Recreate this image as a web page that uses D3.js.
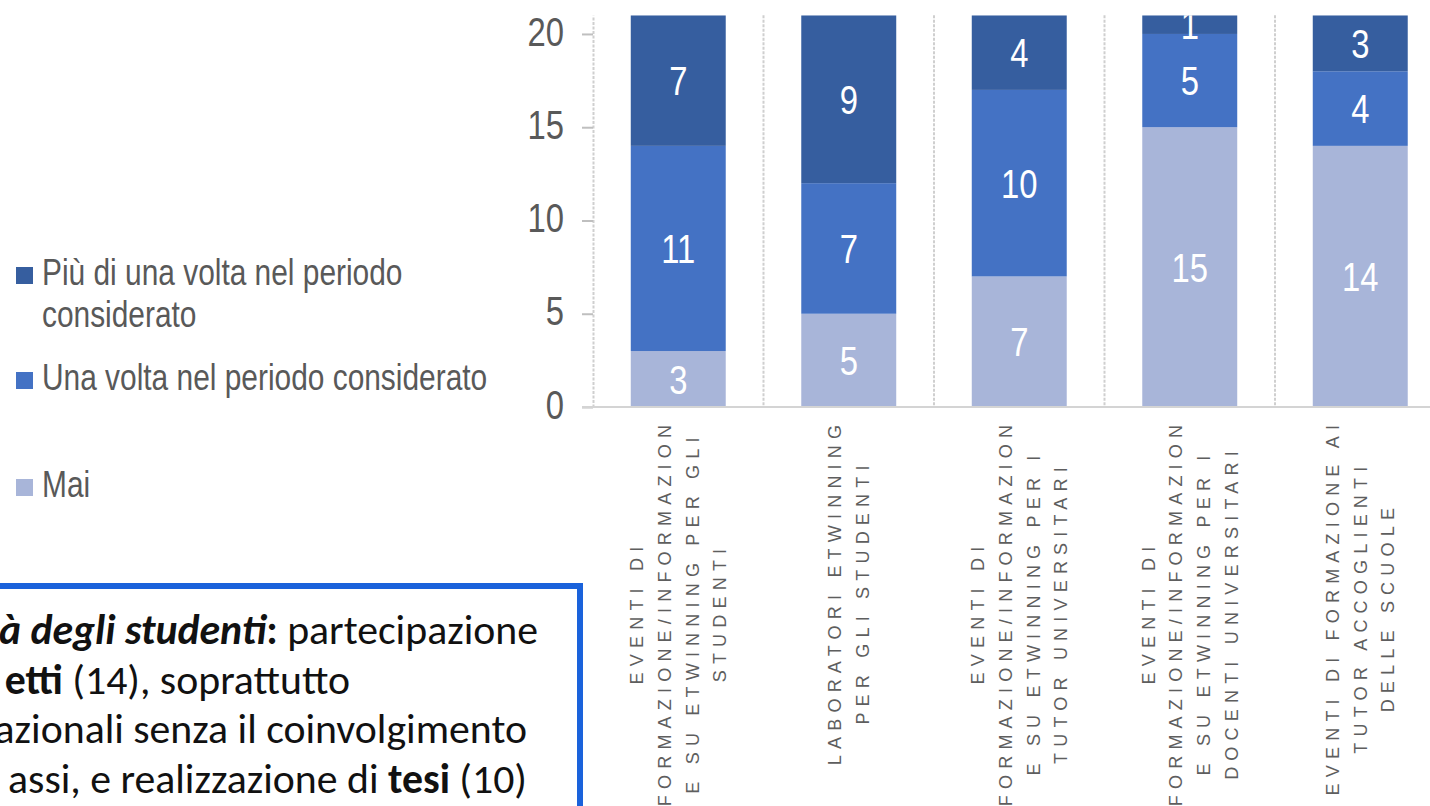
<!DOCTYPE html>
<html>
<head>
<meta charset="utf-8">
<script src="https://cdn.jsdelivr.net/npm/d3@7"></script>
<style>
  body { margin: 0; background: #fff; }
  svg { display: block; }
</style>
</head>
<body>
<div id="chart"></div>
<script>
// categories (x axis), each label split in the lines shown on the chart
const categories = ["eventi_studenti", "laboratori", "eventi_tutor_uni", "eventi_docenti_uni", "eventi_tutor_scuole"];
const catLines = [
  ["EVENTI DI", "FORMAZIONE/INFORMAZION", "E SU ETWINNING PER GLI", "STUDENTI"],
  ["LABORATORI ETWINNING", "PER GLI STUDENTI"],
  ["EVENTI DI", "FORMAZIONE/INFORMAZION", "E SU ETWINNING PER I", "TUTOR UNIVERSITARI"],
  ["EVENTI DI", "FORMAZIONE/INFORMAZION", "E SU ETWINNING PER I", "DOCENTI UNIVERSITARI"],
  ["EVENTI DI FORMAZIONE AI", "TUTOR ACCOGLIENTI", "DELLE SCUOLE"]
];

// series values
const mai      = [3, 5, 7, 15, 14];
const unaVolta = [11, 7, 10, 5, 4];
const piuVolte = [7, 9, 4, 1, 3];

const seriesKeys = ["mai", "una", "piu"];
const seriesColors = { mai: "#a8b5d9", una: "#4472c4", piu: "#365e9f" };

// legend (top to bottom)
const legendKeys = ["piu", "una", "mai"];
const legendLines = [
  ["Più di una volta nel periodo", "considerato"],
  ["Una volta nel periodo considerato"],
  ["Mai"]
];

const yTicks = [0, 5, 10, 15, 20];

// text box lines (fragments: [text, weight, style])
const boxLines = [
  [["à degli studenti", "bold", "italic"], [":", "bold", "normal"], [" partecipazione", "normal", "normal"]],
  [["etti", "bold", "normal"], [" (14), soprattutto", "normal", "normal"]],
  [["azionali senza il coinvolgimento", "normal", "normal"]],
  [["assi, e realizzazione di ", "normal", "normal"], ["tesi", "bold", "normal"], [" (10)", "normal", "normal"]]
];
const boxLineEnds = [538, 350, 527, 527];

const sans = "'Liberation Sans', Arial, sans-serif";
const grey = "#595959";

// Arial Narrow is not available: squeeze Liberation Sans horizontally
function condense(sel, k = 0.8) {
  sel.each(function () {
    const w = this.getComputedTextLength();
    d3.select(this).attr("textLength", w * k).attr("lengthAdjust", "spacingAndGlyphs");
  });
}

const svg = d3.select("#chart").append("svg")
    .attr("width", 1430).attr("height", 806);

// scales
const x = d3.scaleBand().domain(categories)
    .range([593, 593 + 170.5 * categories.length])
    .paddingInner(0.443).paddingOuter(0.2215);
const y = d3.scaleLinear().domain([0, 21]).range([407, 15.3]);

const rows = categories.map((c, i) => ({ cat: c, mai: mai[i], una: unaVolta[i], piu: piuVolte[i] }));
const stacked = d3.stack().keys(seriesKeys)(rows);

svg.append("clipPath").attr("id", "plot")
  .append("rect").attr("x", 0).attr("y", y(21)).attr("width", 1430).attr("height", y(0) - y(21));

// vertical gridlines between categories
const gap = (x.step() - x.bandwidth()) / 2;
svg.append("g").selectAll("line")
  .data(categories.slice(1))
  .join("line")
    .attr("x1", d => x(d) - gap).attr("x2", d => x(d) - gap)
    .attr("y1", y(21)).attr("y2", y(0))
    .attr("stroke", "#cfcfcf").attr("stroke-width", 2)
    .attr("stroke-dasharray", "3,1.5");

// bars
const plot = svg.append("g").attr("clip-path", "url(#plot)");
plot.selectAll("g.layer")
  .data(stacked)
  .join("g").attr("class", "layer")
    .attr("fill", d => seriesColors[d.key])
  .selectAll("rect")
  .data(d => d)
  .join("rect")
    .attr("x", d => x(d.data.cat))
    .attr("width", x.bandwidth())
    .attr("y", d => y(d[1]))
    .attr("height", d => y(d[0]) - y(d[1]));

// data labels
const dataLabels = plot.selectAll("g.labels")
  .data(stacked)
  .join("g").attr("class", "labels")
  .selectAll("text")
  .data(d => d)
  .join("text")
    .attr("x", d => x(d.data.cat) + x.bandwidth() / 2)
    .attr("y", d => y((d[0] + d[1]) / 2))
    .attr("dy", "0.36em")
    .attr("text-anchor", "middle")
    .attr("fill", "#fff")
    .style("font-family", sans).style("font-size", "41px")
    .text(d => d[1] - d[0]);
condense(dataLabels);

// y axis
const yAxis = svg.append("g")
    .attr("transform", `translate(${x.range()[0]},0)`)
    .call(d3.axisLeft(y).tickValues(yTicks).tickSize(11).tickSizeOuter(0).tickPadding(18));
yAxis.select(".domain").attr("stroke", "#cfcfcf").attr("stroke-width", 2).attr("stroke-dasharray", "3,1.5");
yAxis.selectAll(".tick line").attr("stroke", "#bfbfbf").attr("stroke-width", 2);
yAxis.selectAll(".tick text")
    .attr("dy", "0.27em").attr("fill", grey)
    .style("font-family", sans).style("font-size", "41px")
    .call(condense);

// baseline
svg.append("line")
    .attr("x1", x.range()[0] - 11).attr("x2", 1430)
    .attr("y1", y(0)).attr("y2", y(0))
    .attr("stroke", "#d4d4d4").attr("stroke-width", 2);

// category labels, rotated, letter spaced
const labelFs = 18, labelLs = 6.2, labelGap = 27.7, labelTop = 425;
catLines.forEach((lines, i) => {
  const cx = x(categories[i]) + x.bandwidth() / 2;
  const g = svg.append("g").attr("transform", `translate(${cx},0) rotate(-90)`);
  const texts = g.selectAll("text")
    .data(lines)
    .join("text")
      .attr("y", (d, j) => (j - (lines.length - 1) / 2) * labelGap + 0.36 * labelFs)
      .attr("fill", "#5e5e5e")
      .style("font-family", sans)
      .style("font-size", labelFs + "px")
      .style("letter-spacing", labelLs + "px")
      .text(d => d);
  const lens = texts.nodes().map(n => n.getComputedTextLength() - labelLs);
  const center = labelTop + d3.max(lens) / 2;
  texts.attr("x", (d, j) => -(center + lens[j] / 2));
});

// legend
const legendBase = [285, 390, 497];
const legend = svg.append("g");
legendKeys.forEach((k, i) => {
  legend.append("rect")
    .attr("x", 16).attr("y", legendBase[i] - 18)
    .attr("width", 17).attr("height", 17)
    .attr("fill", seriesColors[k]);
  legend.selectAll(null)
    .data(legendLines[i])
    .join("text")
      .attr("x", 42)
      .attr("y", (d, j) => legendBase[i] + j * 42)
      .attr("fill", grey)
      .style("font-family", sans).style("font-size", "36px")
      .text(d => d)
      .call(condense, 0.83);
});

// text box
svg.append("rect")
    .attr("x", -10).attr("y", 586)
    .attr("width", 590).attr("height", 260)
    .attr("fill", "#fff")
    .attr("stroke", "#1a62db").attr("stroke-width", 6);

// fit the substitute font to the width of the original one
const probe = svg.append("text").style("font-family", "Carlito, Lato, sans-serif")
    .style("font-size", "40px").text("partecipazione");
const boxFs = 40 * 251 / probe.node().getComputedTextLength();
probe.remove();

boxLines.forEach((frags, i) => {
  svg.append("text")
      .attr("x", boxLineEnds[i])
      .attr("y", 644 + i * 49.5)
      .attr("text-anchor", "end")
      .attr("fill", "#111")
      .style("font-family", "Carlito, Lato, sans-serif")
      .style("font-size", boxFs + "px")
    .selectAll("tspan")
    .data(frags)
    .join("tspan")
      .style("font-weight", d => d[1])
      .style("font-style", d => d[2])
      .text(d => d[0]);
});
</script>
</body>
</html>
